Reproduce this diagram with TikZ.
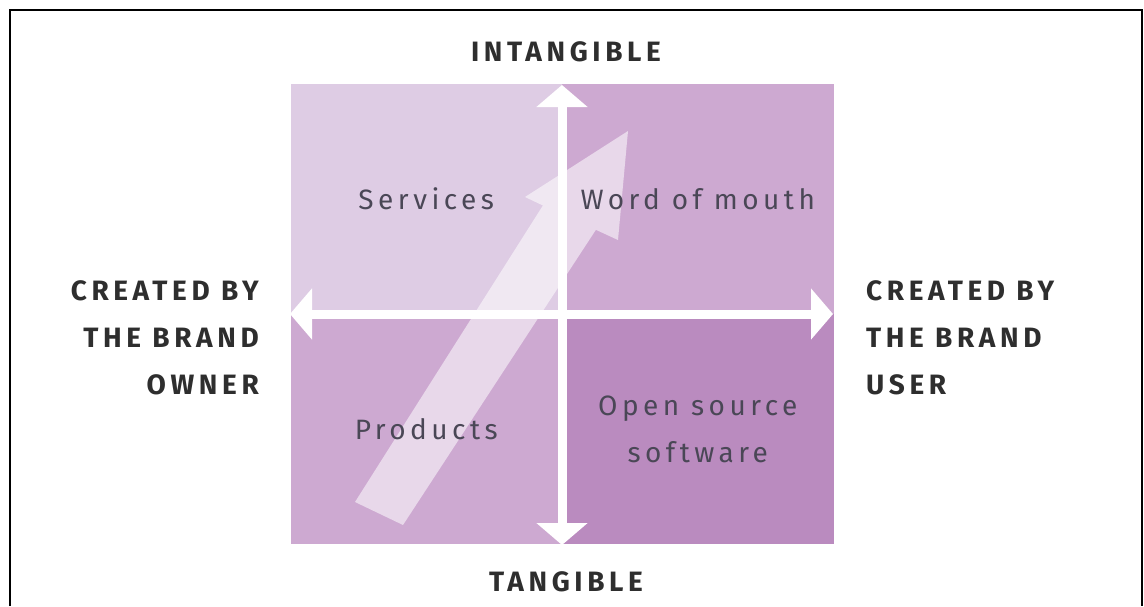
\documentclass[tikz,border=0pt]{standalone}
\usepackage{fontspec}
\setmainfont{Fira Sans}
\newfontfamily\axisfont[LetterSpace=16.5]{Fira Sans}
\newfontfamily\quadfont[LetterSpace=16]{Fira Sans}
\usetikzlibrary{arrows.meta}

\definecolor{qlight}{HTML}{DECCE4}
\definecolor{qmid}{HTML}{CDA9D1}
\definecolor{qdark}{HTML}{BA8BBF}
\definecolor{axisink}{HTML}{2E2E2E}
\definecolor{quadink}{HTML}{4A4756}

\tikzset{
  quad/.style={draw=none, inner sep=0pt, outer sep=0pt,
    minimum width=271.5pt, minimum height=230pt},
  axisline/.style={white, line width=9pt,
    {Triangle[width=50pt,length=22pt]}-{Triangle[width=50pt,length=22pt]}},
  bigarrow/.style={fill=white, fill opacity=0.55, draw=none},
  quadtext/.style={text=quadink, align=center, inner sep=0pt,
    font=\quadfont\fontsize{28}{47}\selectfont},
  axistext/.style={text=axisink, inner sep=0pt,
    font=\axisfont\bfseries\fontsize{28}{47}\selectfont},
}

\begin{document}
\begin{tikzpicture}[x=1pt,y=-1pt]
\useasboundingbox (0,0) rectangle (1144,606);

% outer frame, open at the bottom
\draw[line width=2pt] (10,606) -- (10,10) -- (1142,10) -- (1142,606);

% the four quadrants
\node[quad, fill=qlight, anchor=south east] (services) at (562,314) {};
\node[quad, fill=qmid,   anchor=south west] (word)     at (562,314) {};
\node[quad, fill=qmid,   anchor=north east] (products) at (562,314) {};
\node[quad, fill=qdark,  anchor=north west] (opensrc)  at (562,314) {};

% translucent diagonal arrow
\fill[bigarrow] (355,502) -- (403,525) -- (595.9,229.8) -- (618,240)
  -- (628,131) -- (525,197) -- (542.9,205.5) -- cycle;

% axes
\coordinate (ntop)   at (562,85);
\coordinate (nbot)   at (562,545);
\coordinate (nleft)  at (290,314);
\coordinate (nright) at (833,314);
\draw[axisline] (nleft) -- (nright);
\draw[axisline] (ntop) -- (nbot);

% quadrant labels
\node[quadtext] (servicesT) at (services.center) {Services};
\node[quadtext] (wordT)     at (word.center)     {Word of mouth};
\node[quadtext] (productsT) at (products.center) {Products};
\node[quadtext] (opensrcT)  at (opensrc.center)  {Open source\\software};

% axis labels
\node[axistext] (intang) at (566,52)  {INTANGIBLE};
\node[axistext] (tang)   at (566,582) {TANGIBLE};
\node[axistext, align=right, anchor=east] (owner) at (259,338)
  {CREATED BY\\THE BRAND\\OWNER};
\node[axistext, align=left, anchor=west] (user) at (866,338)
  {CREATED BY\\THE BRAND\\USER};
\end{tikzpicture}
\end{document}
